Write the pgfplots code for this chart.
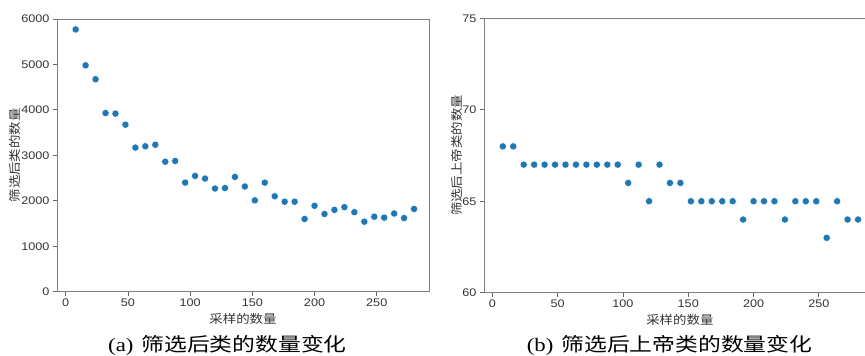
\documentclass[border=0pt]{standalone}
\usepackage{fontspec}
\usepackage{pgfplots}
\usepackage{pgfplotstable}
\pgfplotsset{compat=1.18}
\setmainfont{Liberation Serif}
\newfontfamily\tickfont{Liberation Sans}[FakeStretch=1.15]
\newfontfamily\cjk{Noto Sans CJK SC}[FakeStretch=1.12]
\newfontfamily\cjkcap{Noto Sans CJK SC}[FakeStretch=1.2]
\newfontfamily\capserif{Liberation Serif}[FakeStretch=1.2]
\definecolor{mplblue}{HTML}{1F77B4}

\pgfplotstableread{
x y
8 5770
16 4980
24 4675
32 3930
40 3918
48 3675
56 3170
64 3200
72 3234
80 2860
88 2876
96 2400
104 2548
112 2490
120 2270
128 2280
136 2525
144 2315
152 2010
160 2400
168 2100
176 1980
184 1980
192 1600
200 1890
208 1710
216 1800
224 1860
232 1750
240 1540
248 1650
256 1630
264 1720
272 1620
280 1820
}\dataA

\pgfplotstableread{
x y
8 68
16 68
24 67
32 67
40 67
48 67
56 67
64 67
72 67
80 67
88 67
96 67
104 66
112 67
120 65
128 67
136 66
144 66
152 65
160 65
168 65
176 65
184 65
192 64
200 65
208 65
216 65
224 64
232 65
240 65
248 65
256 63
264 65
272 64
280 64
}\dataB

\pgfplotsset{
  myax/.style={
    scale only axis,
    anchor=south west,
    xtick={0,50,...,250},
    xtick pos=bottom, ytick pos=left,
    tick align=outside,
    major tick length=4pt,
    axis line style={black!50, line width=0.9pt},
    every tick/.style={black!60, line width=0.8pt},
    tick label style={font=\tickfont\fontsize{11}{13}\selectfont, text=black!80},
    /pgf/number format/assume math mode=true,
    /pgf/number format/1000 sep={},
    scaled ticks=false,
    label style={font=\cjk\fontsize{12}{14}\selectfont, text=black!80, inner sep=0pt},
    xlabel style={at={(axis description cs:0.5,0)}, anchor=north, yshift=-21pt},
    clip=false,
  },
  mydots/.style={only marks, mark=*, mark size=3.6pt,
    mark options={fill=mplblue, draw=white, line width=0.4pt}},
}

\begin{document}
\begin{tikzpicture}
\begin{axis}[myax,
  at={(57pt,64.3pt)},
  width=372pt, height=272.7pt,
  xmin=-7, xmax=292,
  ymin=0, ymax=6000,
  ytick={0,1000,...,6000},
  xlabel={采样的数量},
  ylabel={筛选后类的数量},
  ylabel style={at={(axis description cs:-0.114,0.5)}, anchor=center},
]
\addplot[mydots] table[x=x,y=y] {\dataA};
\end{axis}

\begin{axis}[myax,
  at={(484pt,63.3pt)},
  width=391.8pt, height=274.4pt,
  xmin=-6.4, xmax=293.6,
  ymin=60, ymax=75,
  ytick={60,65,70,75},
  xlabel={采样的数量},
  ylabel={筛选后上帝类的数量},
  ylabel style={at={(axis description cs:-0.069,0.5)}, anchor=center},
]
\addplot[mydots] table[x=x,y=y] {\dataB};
\end{axis}

\node[anchor=base west, inner sep=0pt] at (108pt,4.5pt)
  {\capserif\fontsize{19}{22}\selectfont (a)\hspace{8pt}\cjkcap 筛选后类的数量变化};
\node[anchor=base west, inner sep=0pt] at (526.7pt,4.5pt)
  {\capserif\fontsize{19}{22}\selectfont (b)\hspace{8pt}\cjkcap 筛选后上帝类的数量变化};

\pgfresetboundingbox
\useasboundingbox (0,0) rectangle (865pt,356pt);
\end{tikzpicture}
\end{document}
